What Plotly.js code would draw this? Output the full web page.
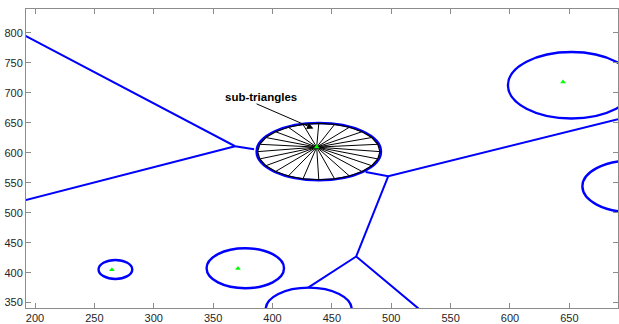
<!DOCTYPE html>
<html>
<head>
<meta charset="utf-8">
<script src="https://cdn.plot.ly/plotly-3.0.1.min.js"></script>
<style>html,body{margin:0;padding:0;background:#fff;}#chart{width:619px;height:324px;}</style>
</head>
<body>
<div id="chart"></div>
<script>
// Voronoi-like edges (blue polylines)
const edge1X = [192, 368.5, 384.5], edge1Y = [795, 611, 606];
const edge2X = [192, 368.5],        edge2Y = [521, 611];
const edge3X = [478.5, 497.5, 691], edge3Y = [568, 561, 656];
const edge4X = [497.5, 470.5, 523], edge4Y = [561, 427, 340];
const edge5X = [470.5, 430],        edge5Y = [427, 375];

// Circles around sites (center + radii, data units)
const circCX = [439, 651.7, 702, 267.7, 377.1, 430.5];
const circCY = [602, 712.8, 544, 405.3, 407.3, 339];
const circRX = [52.4, 53.4, 41, 14.2, 32.6, 36.2];
const circRY = [47.8, 55.5, 43, 15.8, 33.3, 36];

// Sites (green triangles)
const siteX = [264.7, 370.9, 437.2, 644.7];
const siteY = [405, 407, 609.5, 718];

// Polygon vertices of the subdivided cell (black)
const polyX = [490.5, 488.7, 483.6, 475.4, 464.8, 452.3, 439, 425.7, 413.3, 402.6, 394.4, 389.3,
               387.5, 389.3, 394.4, 402.6, 413.3, 425.7, 439, 452.3, 464.8, 475.4, 483.6, 488.7];
const polyY = [602, 614.2, 625.5, 635.2, 642.7, 647.4, 649, 647.4, 642.7, 635.2, 625.5, 614.2,
               602, 589.8, 578.5, 568.8, 561.3, 556.6, 555, 556.6, 561.3, 568.8, 578.5, 589.8];
const hubX = 437.2, hubY = 609.5;

const xTicks = [200, 250, 300, 350, 400, 450, 500, 550, 600, 650];
const yTicks = [350, 400, 450, 500, 550, 600, 650, 700, 750, 800];

const blue = '#0000ff';
const traces = [];
[[edge1X, edge1Y], [edge2X, edge2Y], [edge3X, edge3Y], [edge4X, edge4Y], [edge5X, edge5Y]].forEach(e => {
  traces.push({x: e[0], y: e[1], mode: 'lines', line: {color: blue, width: 2}, hoverinfo: 'skip', showlegend: false});
});

// spokes
const spX = [], spY = [];
for (let i = 0; i < polyX.length; i++) { spX.push(hubX, polyX[i], null); spY.push(hubY, polyY[i], null); }
traces.push({x: spX, y: spY, mode: 'lines', line: {color: '#000', width: 1}, hoverinfo: 'skip', showlegend: false});
traces.push({x: polyX.concat([polyX[0]]), y: polyY.concat([polyY[0]]), mode: 'lines', line: {color: '#000', width: 1.2}, hoverinfo: 'skip', showlegend: false});

traces.push({x: siteX, y: siteY, mode: 'markers', marker: {symbol: 'triangle-up', size: 5, color: '#00ff00'}, hoverinfo: 'skip', showlegend: false});

const shapes = circCX.map((cx, i) => ({
  type: 'circle', xref: 'x', yref: 'y', layer: 'below',
  x0: cx - circRX[i], x1: cx + circRX[i], y0: circCY[i] - circRY[i], y1: circCY[i] + circRY[i],
  line: {color: blue, width: 2.4}
}));

const axCommon = {
  showgrid: false, zeroline: false, showline: true, linecolor: '#8c8c8c', linewidth: 1,
  mirror: 'ticks', ticks: 'inside', ticklen: 5, tickcolor: '#8c8c8c', tickwidth: 1,
  tickfont: {family: 'Liberation Sans, Arial, sans-serif', size: 11, color: '#262626'}
};

const layout = {
  width: 619, height: 324,
  margin: {l: 26, r: 1, t: 9, b: 16},
  paper_bgcolor: '#fff', plot_bgcolor: '#fff',
  xaxis: Object.assign({}, axCommon, {range: [192.4, 691], tickvals: xTicks, ticktext: xTicks.map(String)}),
  yaxis: Object.assign({}, axCommon, {range: [341, 840], tickvals: yTicks, ticktext: yTicks.map(String)}),
  shapes: shapes,
  annotations: [
    {xref: 'x', yref: 'y', x: 390.4, y: 692.8, text: '<b>sub-triangles</b>', showarrow: false,
     font: {family: 'Liberation Sans, Arial, sans-serif', size: 11.5, color: '#000'}},
    {xref: 'x', yref: 'y', axref: 'x', ayref: 'y', x: 434.5, y: 640.5, ax: 385.3, ay: 682.8,
     text: '', showarrow: true, arrowhead: 2, arrowsize: 1.3, arrowwidth: 1, arrowcolor: '#000'}
  ],
  showlegend: false
};

Plotly.newPlot('chart', traces, layout, {staticPlot: true, displayModeBar: false});
</script>
</body>
</html>
